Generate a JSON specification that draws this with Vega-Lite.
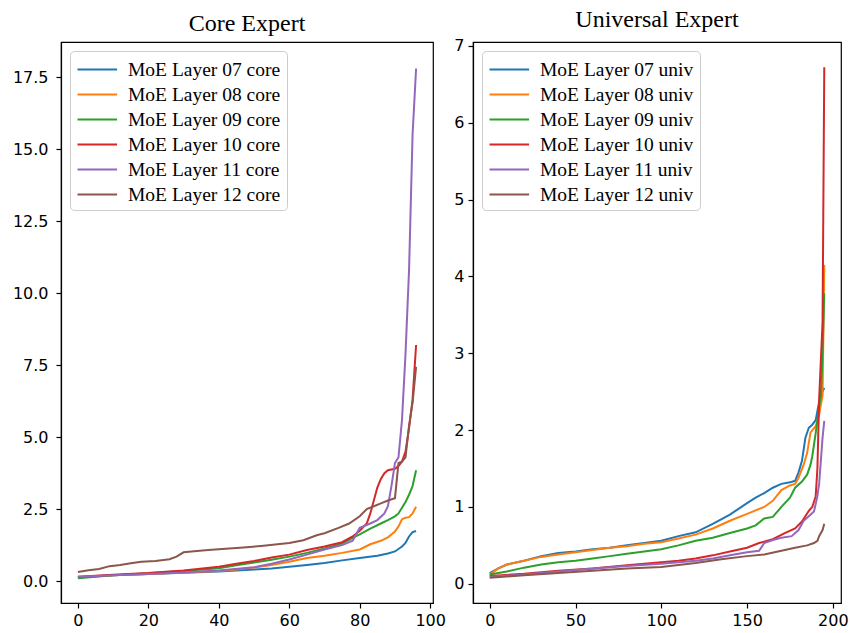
{
  "$schema": "https://vega.github.io/schema/vega-lite/v6.json",
  "padding": {"left": 11, "top": 7, "right": 0, "bottom": 0},
  "background": "white",
  "spacing": 6,
  "datasets": {
    "core": [
      {"s": "MoE Layer 07 core", "x": 0, "y": 0.13}, {"s": "MoE Layer 07 core", "x": 10, "y": 0.2}, {"s": "MoE Layer 07 core", "x": 20, "y": 0.25}, {"s": "MoE Layer 07 core", "x": 30, "y": 0.29}, {"s": "MoE Layer 07 core", "x": 40, "y": 0.33}, {"s": "MoE Layer 07 core", "x": 50, "y": 0.4}, {"s": "MoE Layer 07 core", "x": 55, "y": 0.44}, {"s": "MoE Layer 07 core", "x": 60, "y": 0.5}, {"s": "MoE Layer 07 core", "x": 65, "y": 0.56}, {"s": "MoE Layer 07 core", "x": 70, "y": 0.63}, {"s": "MoE Layer 07 core", "x": 75, "y": 0.72}, {"s": "MoE Layer 07 core", "x": 80, "y": 0.8}, {"s": "MoE Layer 07 core", "x": 85, "y": 0.88}, {"s": "MoE Layer 07 core", "x": 88, "y": 0.96}, {"s": "MoE Layer 07 core", "x": 90, "y": 1.03}, {"s": "MoE Layer 07 core", "x": 92, "y": 1.2}, {"s": "MoE Layer 07 core", "x": 93, "y": 1.33}, {"s": "MoE Layer 07 core", "x": 94, "y": 1.55}, {"s": "MoE Layer 07 core", "x": 95, "y": 1.7}, {"s": "MoE Layer 07 core", "x": 96, "y": 1.74},
      {"s": "MoE Layer 08 core", "x": 0, "y": 0.13}, {"s": "MoE Layer 08 core", "x": 10, "y": 0.2}, {"s": "MoE Layer 08 core", "x": 20, "y": 0.25}, {"s": "MoE Layer 08 core", "x": 30, "y": 0.3}, {"s": "MoE Layer 08 core", "x": 40, "y": 0.35}, {"s": "MoE Layer 08 core", "x": 45, "y": 0.4}, {"s": "MoE Layer 08 core", "x": 50, "y": 0.47}, {"s": "MoE Layer 08 core", "x": 55, "y": 0.56}, {"s": "MoE Layer 08 core", "x": 60, "y": 0.67}, {"s": "MoE Layer 08 core", "x": 65, "y": 0.8}, {"s": "MoE Layer 08 core", "x": 70, "y": 0.88}, {"s": "MoE Layer 08 core", "x": 75, "y": 0.98}, {"s": "MoE Layer 08 core", "x": 80, "y": 1.1}, {"s": "MoE Layer 08 core", "x": 83, "y": 1.28}, {"s": "MoE Layer 08 core", "x": 86, "y": 1.4}, {"s": "MoE Layer 08 core", "x": 88, "y": 1.52}, {"s": "MoE Layer 08 core", "x": 90, "y": 1.72}, {"s": "MoE Layer 08 core", "x": 91, "y": 1.9}, {"s": "MoE Layer 08 core", "x": 92, "y": 2.15}, {"s": "MoE Layer 08 core", "x": 93, "y": 2.2}, {"s": "MoE Layer 08 core", "x": 94, "y": 2.22}, {"s": "MoE Layer 08 core", "x": 95, "y": 2.35}, {"s": "MoE Layer 08 core", "x": 96, "y": 2.58},
      {"s": "MoE Layer 09 core", "x": 0, "y": 0.1}, {"s": "MoE Layer 09 core", "x": 10, "y": 0.2}, {"s": "MoE Layer 09 core", "x": 20, "y": 0.27}, {"s": "MoE Layer 09 core", "x": 30, "y": 0.35}, {"s": "MoE Layer 09 core", "x": 40, "y": 0.45}, {"s": "MoE Layer 09 core", "x": 45, "y": 0.55}, {"s": "MoE Layer 09 core", "x": 50, "y": 0.65}, {"s": "MoE Layer 09 core", "x": 55, "y": 0.74}, {"s": "MoE Layer 09 core", "x": 60, "y": 0.85}, {"s": "MoE Layer 09 core", "x": 65, "y": 0.98}, {"s": "MoE Layer 09 core", "x": 70, "y": 1.13}, {"s": "MoE Layer 09 core", "x": 75, "y": 1.3}, {"s": "MoE Layer 09 core", "x": 78, "y": 1.5}, {"s": "MoE Layer 09 core", "x": 80, "y": 1.62}, {"s": "MoE Layer 09 core", "x": 83, "y": 1.82}, {"s": "MoE Layer 09 core", "x": 86, "y": 2.0}, {"s": "MoE Layer 09 core", "x": 88, "y": 2.12}, {"s": "MoE Layer 09 core", "x": 90, "y": 2.25}, {"s": "MoE Layer 09 core", "x": 91, "y": 2.35}, {"s": "MoE Layer 09 core", "x": 92, "y": 2.55}, {"s": "MoE Layer 09 core", "x": 93, "y": 2.75}, {"s": "MoE Layer 09 core", "x": 94, "y": 3.0}, {"s": "MoE Layer 09 core", "x": 95, "y": 3.3}, {"s": "MoE Layer 09 core", "x": 96, "y": 3.85},
      {"s": "MoE Layer 10 core", "x": 0, "y": 0.15}, {"s": "MoE Layer 10 core", "x": 10, "y": 0.22}, {"s": "MoE Layer 10 core", "x": 20, "y": 0.28}, {"s": "MoE Layer 10 core", "x": 30, "y": 0.37}, {"s": "MoE Layer 10 core", "x": 40, "y": 0.5}, {"s": "MoE Layer 10 core", "x": 45, "y": 0.6}, {"s": "MoE Layer 10 core", "x": 50, "y": 0.7}, {"s": "MoE Layer 10 core", "x": 55, "y": 0.82}, {"s": "MoE Layer 10 core", "x": 60, "y": 0.92}, {"s": "MoE Layer 10 core", "x": 65, "y": 1.08}, {"s": "MoE Layer 10 core", "x": 70, "y": 1.2}, {"s": "MoE Layer 10 core", "x": 75, "y": 1.35}, {"s": "MoE Layer 10 core", "x": 78, "y": 1.55}, {"s": "MoE Layer 10 core", "x": 80, "y": 1.75}, {"s": "MoE Layer 10 core", "x": 82, "y": 2.0}, {"s": "MoE Layer 10 core", "x": 83, "y": 2.35}, {"s": "MoE Layer 10 core", "x": 84, "y": 2.8}, {"s": "MoE Layer 10 core", "x": 85, "y": 3.25}, {"s": "MoE Layer 10 core", "x": 86, "y": 3.55}, {"s": "MoE Layer 10 core", "x": 87, "y": 3.75}, {"s": "MoE Layer 10 core", "x": 88, "y": 3.85}, {"s": "MoE Layer 10 core", "x": 90, "y": 3.9}, {"s": "MoE Layer 10 core", "x": 91, "y": 4.0}, {"s": "MoE Layer 10 core", "x": 92, "y": 4.15}, {"s": "MoE Layer 10 core", "x": 93, "y": 4.5}, {"s": "MoE Layer 10 core", "x": 94, "y": 5.3}, {"s": "MoE Layer 10 core", "x": 95, "y": 6.3}, {"s": "MoE Layer 10 core", "x": 96, "y": 8.2},
      {"s": "MoE Layer 11 core", "x": 0, "y": 0.15}, {"s": "MoE Layer 11 core", "x": 10, "y": 0.2}, {"s": "MoE Layer 11 core", "x": 20, "y": 0.25}, {"s": "MoE Layer 11 core", "x": 30, "y": 0.3}, {"s": "MoE Layer 11 core", "x": 40, "y": 0.37}, {"s": "MoE Layer 11 core", "x": 50, "y": 0.48}, {"s": "MoE Layer 11 core", "x": 55, "y": 0.6}, {"s": "MoE Layer 11 core", "x": 60, "y": 0.75}, {"s": "MoE Layer 11 core", "x": 65, "y": 0.92}, {"s": "MoE Layer 11 core", "x": 70, "y": 1.1}, {"s": "MoE Layer 11 core", "x": 75, "y": 1.25}, {"s": "MoE Layer 11 core", "x": 78, "y": 1.4}, {"s": "MoE Layer 11 core", "x": 80, "y": 1.85}, {"s": "MoE Layer 11 core", "x": 83, "y": 2.0}, {"s": "MoE Layer 11 core", "x": 85, "y": 2.12}, {"s": "MoE Layer 11 core", "x": 87, "y": 2.35}, {"s": "MoE Layer 11 core", "x": 88, "y": 2.6}, {"s": "MoE Layer 11 core", "x": 89, "y": 3.3}, {"s": "MoE Layer 11 core", "x": 90, "y": 4.1}, {"s": "MoE Layer 11 core", "x": 91, "y": 4.3}, {"s": "MoE Layer 11 core", "x": 92, "y": 5.6}, {"s": "MoE Layer 11 core", "x": 93, "y": 7.9}, {"s": "MoE Layer 11 core", "x": 94, "y": 10.8}, {"s": "MoE Layer 11 core", "x": 95, "y": 15.5}, {"s": "MoE Layer 11 core", "x": 96, "y": 17.8},
      {"s": "MoE Layer 12 core", "x": 0, "y": 0.32}, {"s": "MoE Layer 12 core", "x": 3, "y": 0.38}, {"s": "MoE Layer 12 core", "x": 6, "y": 0.42}, {"s": "MoE Layer 12 core", "x": 9, "y": 0.52}, {"s": "MoE Layer 12 core", "x": 12, "y": 0.56}, {"s": "MoE Layer 12 core", "x": 15, "y": 0.62}, {"s": "MoE Layer 12 core", "x": 18, "y": 0.67}, {"s": "MoE Layer 12 core", "x": 22, "y": 0.7}, {"s": "MoE Layer 12 core", "x": 26, "y": 0.76}, {"s": "MoE Layer 12 core", "x": 28, "y": 0.85}, {"s": "MoE Layer 12 core", "x": 30, "y": 1.0}, {"s": "MoE Layer 12 core", "x": 33, "y": 1.04}, {"s": "MoE Layer 12 core", "x": 37, "y": 1.08}, {"s": "MoE Layer 12 core", "x": 42, "y": 1.12}, {"s": "MoE Layer 12 core", "x": 47, "y": 1.17}, {"s": "MoE Layer 12 core", "x": 52, "y": 1.22}, {"s": "MoE Layer 12 core", "x": 56, "y": 1.27}, {"s": "MoE Layer 12 core", "x": 60, "y": 1.32}, {"s": "MoE Layer 12 core", "x": 64, "y": 1.42}, {"s": "MoE Layer 12 core", "x": 68, "y": 1.6}, {"s": "MoE Layer 12 core", "x": 70, "y": 1.66}, {"s": "MoE Layer 12 core", "x": 74, "y": 1.85}, {"s": "MoE Layer 12 core", "x": 77, "y": 2.0}, {"s": "MoE Layer 12 core", "x": 80, "y": 2.25}, {"s": "MoE Layer 12 core", "x": 82, "y": 2.5}, {"s": "MoE Layer 12 core", "x": 84, "y": 2.6}, {"s": "MoE Layer 12 core", "x": 86, "y": 2.7}, {"s": "MoE Layer 12 core", "x": 88, "y": 2.8}, {"s": "MoE Layer 12 core", "x": 90, "y": 2.88}, {"s": "MoE Layer 12 core", "x": 91, "y": 4.1}, {"s": "MoE Layer 12 core", "x": 92, "y": 4.15}, {"s": "MoE Layer 12 core", "x": 93, "y": 4.3}, {"s": "MoE Layer 12 core", "x": 94, "y": 5.4}, {"s": "MoE Layer 12 core", "x": 95, "y": 6.2}, {"s": "MoE Layer 12 core", "x": 96, "y": 7.44}
    ],
    "univ": [
      {"s": "MoE Layer 07 univ", "x": 0, "y": 0.14}, {"s": "MoE Layer 07 univ", "x": 5, "y": 0.2}, {"s": "MoE Layer 07 univ", "x": 10, "y": 0.25}, {"s": "MoE Layer 07 univ", "x": 20, "y": 0.3}, {"s": "MoE Layer 07 univ", "x": 30, "y": 0.36}, {"s": "MoE Layer 07 univ", "x": 40, "y": 0.4}, {"s": "MoE Layer 07 univ", "x": 50, "y": 0.42}, {"s": "MoE Layer 07 univ", "x": 60, "y": 0.45}, {"s": "MoE Layer 07 univ", "x": 70, "y": 0.47}, {"s": "MoE Layer 07 univ", "x": 80, "y": 0.5}, {"s": "MoE Layer 07 univ", "x": 90, "y": 0.53}, {"s": "MoE Layer 07 univ", "x": 100, "y": 0.56}, {"s": "MoE Layer 07 univ", "x": 110, "y": 0.62}, {"s": "MoE Layer 07 univ", "x": 120, "y": 0.67}, {"s": "MoE Layer 07 univ", "x": 130, "y": 0.78}, {"s": "MoE Layer 07 univ", "x": 140, "y": 0.9}, {"s": "MoE Layer 07 univ", "x": 150, "y": 1.05}, {"s": "MoE Layer 07 univ", "x": 155, "y": 1.12}, {"s": "MoE Layer 07 univ", "x": 160, "y": 1.18}, {"s": "MoE Layer 07 univ", "x": 165, "y": 1.25}, {"s": "MoE Layer 07 univ", "x": 170, "y": 1.3}, {"s": "MoE Layer 07 univ", "x": 175, "y": 1.32}, {"s": "MoE Layer 07 univ", "x": 178, "y": 1.34}, {"s": "MoE Layer 07 univ", "x": 180, "y": 1.45}, {"s": "MoE Layer 07 univ", "x": 182, "y": 1.6}, {"s": "MoE Layer 07 univ", "x": 184, "y": 1.9}, {"s": "MoE Layer 07 univ", "x": 186, "y": 2.03}, {"s": "MoE Layer 07 univ", "x": 188, "y": 2.07}, {"s": "MoE Layer 07 univ", "x": 190, "y": 2.13}, {"s": "MoE Layer 07 univ", "x": 192, "y": 2.37}, {"s": "MoE Layer 07 univ", "x": 194, "y": 2.5}, {"s": "MoE Layer 07 univ", "x": 195, "y": 2.55},
      {"s": "MoE Layer 08 univ", "x": 0, "y": 0.12}, {"s": "MoE Layer 08 univ", "x": 5, "y": 0.2}, {"s": "MoE Layer 08 univ", "x": 10, "y": 0.25}, {"s": "MoE Layer 08 univ", "x": 20, "y": 0.3}, {"s": "MoE Layer 08 univ", "x": 30, "y": 0.35}, {"s": "MoE Layer 08 univ", "x": 40, "y": 0.38}, {"s": "MoE Layer 08 univ", "x": 50, "y": 0.41}, {"s": "MoE Layer 08 univ", "x": 60, "y": 0.44}, {"s": "MoE Layer 08 univ", "x": 70, "y": 0.47}, {"s": "MoE Layer 08 univ", "x": 80, "y": 0.49}, {"s": "MoE Layer 08 univ", "x": 90, "y": 0.52}, {"s": "MoE Layer 08 univ", "x": 100, "y": 0.54}, {"s": "MoE Layer 08 univ", "x": 110, "y": 0.59}, {"s": "MoE Layer 08 univ", "x": 120, "y": 0.64}, {"s": "MoE Layer 08 univ", "x": 130, "y": 0.72}, {"s": "MoE Layer 08 univ", "x": 140, "y": 0.82}, {"s": "MoE Layer 08 univ", "x": 150, "y": 0.91}, {"s": "MoE Layer 08 univ", "x": 160, "y": 1.0}, {"s": "MoE Layer 08 univ", "x": 165, "y": 1.08}, {"s": "MoE Layer 08 univ", "x": 170, "y": 1.22}, {"s": "MoE Layer 08 univ", "x": 175, "y": 1.28}, {"s": "MoE Layer 08 univ", "x": 178, "y": 1.3}, {"s": "MoE Layer 08 univ", "x": 180, "y": 1.38}, {"s": "MoE Layer 08 univ", "x": 183, "y": 1.55}, {"s": "MoE Layer 08 univ", "x": 185, "y": 1.7}, {"s": "MoE Layer 08 univ", "x": 187, "y": 1.97}, {"s": "MoE Layer 08 univ", "x": 190, "y": 2.05}, {"s": "MoE Layer 08 univ", "x": 192, "y": 2.2}, {"s": "MoE Layer 08 univ", "x": 194, "y": 2.45}, {"s": "MoE Layer 08 univ", "x": 195, "y": 4.15},
      {"s": "MoE Layer 09 univ", "x": 0, "y": 0.12}, {"s": "MoE Layer 09 univ", "x": 10, "y": 0.16}, {"s": "MoE Layer 09 univ", "x": 20, "y": 0.21}, {"s": "MoE Layer 09 univ", "x": 30, "y": 0.25}, {"s": "MoE Layer 09 univ", "x": 40, "y": 0.28}, {"s": "MoE Layer 09 univ", "x": 50, "y": 0.3}, {"s": "MoE Layer 09 univ", "x": 60, "y": 0.33}, {"s": "MoE Layer 09 univ", "x": 70, "y": 0.36}, {"s": "MoE Layer 09 univ", "x": 80, "y": 0.39}, {"s": "MoE Layer 09 univ", "x": 90, "y": 0.42}, {"s": "MoE Layer 09 univ", "x": 100, "y": 0.45}, {"s": "MoE Layer 09 univ", "x": 110, "y": 0.5}, {"s": "MoE Layer 09 univ", "x": 120, "y": 0.56}, {"s": "MoE Layer 09 univ", "x": 130, "y": 0.6}, {"s": "MoE Layer 09 univ", "x": 140, "y": 0.66}, {"s": "MoE Layer 09 univ", "x": 150, "y": 0.72}, {"s": "MoE Layer 09 univ", "x": 155, "y": 0.76}, {"s": "MoE Layer 09 univ", "x": 160, "y": 0.85}, {"s": "MoE Layer 09 univ", "x": 165, "y": 0.87}, {"s": "MoE Layer 09 univ", "x": 170, "y": 1.0}, {"s": "MoE Layer 09 univ", "x": 175, "y": 1.12}, {"s": "MoE Layer 09 univ", "x": 178, "y": 1.25}, {"s": "MoE Layer 09 univ", "x": 182, "y": 1.33}, {"s": "MoE Layer 09 univ", "x": 185, "y": 1.42}, {"s": "MoE Layer 09 univ", "x": 187, "y": 1.55}, {"s": "MoE Layer 09 univ", "x": 188, "y": 1.66}, {"s": "MoE Layer 09 univ", "x": 190, "y": 1.96}, {"s": "MoE Layer 09 univ", "x": 192, "y": 2.3}, {"s": "MoE Layer 09 univ", "x": 193, "y": 2.45}, {"s": "MoE Layer 09 univ", "x": 194, "y": 3.0}, {"s": "MoE Layer 09 univ", "x": 195, "y": 3.78},
      {"s": "MoE Layer 10 univ", "x": 0, "y": 0.1}, {"s": "MoE Layer 10 univ", "x": 20, "y": 0.13}, {"s": "MoE Layer 10 univ", "x": 40, "y": 0.17}, {"s": "MoE Layer 10 univ", "x": 60, "y": 0.2}, {"s": "MoE Layer 10 univ", "x": 80, "y": 0.24}, {"s": "MoE Layer 10 univ", "x": 100, "y": 0.28}, {"s": "MoE Layer 10 univ", "x": 110, "y": 0.3}, {"s": "MoE Layer 10 univ", "x": 120, "y": 0.33}, {"s": "MoE Layer 10 univ", "x": 130, "y": 0.37}, {"s": "MoE Layer 10 univ", "x": 140, "y": 0.42}, {"s": "MoE Layer 10 univ", "x": 150, "y": 0.47}, {"s": "MoE Layer 10 univ", "x": 157, "y": 0.53}, {"s": "MoE Layer 10 univ", "x": 165, "y": 0.58}, {"s": "MoE Layer 10 univ", "x": 172, "y": 0.66}, {"s": "MoE Layer 10 univ", "x": 178, "y": 0.72}, {"s": "MoE Layer 10 univ", "x": 182, "y": 0.81}, {"s": "MoE Layer 10 univ", "x": 186, "y": 0.95}, {"s": "MoE Layer 10 univ", "x": 188, "y": 1.0}, {"s": "MoE Layer 10 univ", "x": 190, "y": 1.14}, {"s": "MoE Layer 10 univ", "x": 191, "y": 1.5}, {"s": "MoE Layer 10 univ", "x": 192, "y": 2.4}, {"s": "MoE Layer 10 univ", "x": 193, "y": 2.9}, {"s": "MoE Layer 10 univ", "x": 194, "y": 3.4}, {"s": "MoE Layer 10 univ", "x": 195, "y": 6.72},
      {"s": "MoE Layer 11 univ", "x": 0, "y": 0.09}, {"s": "MoE Layer 11 univ", "x": 20, "y": 0.12}, {"s": "MoE Layer 11 univ", "x": 40, "y": 0.16}, {"s": "MoE Layer 11 univ", "x": 60, "y": 0.2}, {"s": "MoE Layer 11 univ", "x": 80, "y": 0.23}, {"s": "MoE Layer 11 univ", "x": 100, "y": 0.26}, {"s": "MoE Layer 11 univ", "x": 110, "y": 0.28}, {"s": "MoE Layer 11 univ", "x": 120, "y": 0.3}, {"s": "MoE Layer 11 univ", "x": 130, "y": 0.33}, {"s": "MoE Layer 11 univ", "x": 140, "y": 0.37}, {"s": "MoE Layer 11 univ", "x": 150, "y": 0.41}, {"s": "MoE Layer 11 univ", "x": 157, "y": 0.43}, {"s": "MoE Layer 11 univ", "x": 160, "y": 0.53}, {"s": "MoE Layer 11 univ", "x": 165, "y": 0.57}, {"s": "MoE Layer 11 univ", "x": 170, "y": 0.6}, {"s": "MoE Layer 11 univ", "x": 176, "y": 0.62}, {"s": "MoE Layer 11 univ", "x": 180, "y": 0.7}, {"s": "MoE Layer 11 univ", "x": 183, "y": 0.82}, {"s": "MoE Layer 11 univ", "x": 186, "y": 0.88}, {"s": "MoE Layer 11 univ", "x": 189, "y": 0.94}, {"s": "MoE Layer 11 univ", "x": 191, "y": 1.14}, {"s": "MoE Layer 11 univ", "x": 192, "y": 1.3}, {"s": "MoE Layer 11 univ", "x": 193, "y": 1.6}, {"s": "MoE Layer 11 univ", "x": 194, "y": 1.9}, {"s": "MoE Layer 11 univ", "x": 195, "y": 2.12},
      {"s": "MoE Layer 12 univ", "x": 0, "y": 0.08}, {"s": "MoE Layer 12 univ", "x": 20, "y": 0.11}, {"s": "MoE Layer 12 univ", "x": 40, "y": 0.14}, {"s": "MoE Layer 12 univ", "x": 60, "y": 0.17}, {"s": "MoE Layer 12 univ", "x": 80, "y": 0.2}, {"s": "MoE Layer 12 univ", "x": 100, "y": 0.22}, {"s": "MoE Layer 12 univ", "x": 120, "y": 0.27}, {"s": "MoE Layer 12 univ", "x": 135, "y": 0.32}, {"s": "MoE Layer 12 univ", "x": 150, "y": 0.36}, {"s": "MoE Layer 12 univ", "x": 160, "y": 0.38}, {"s": "MoE Layer 12 univ", "x": 170, "y": 0.43}, {"s": "MoE Layer 12 univ", "x": 178, "y": 0.47}, {"s": "MoE Layer 12 univ", "x": 185, "y": 0.5}, {"s": "MoE Layer 12 univ", "x": 189, "y": 0.53}, {"s": "MoE Layer 12 univ", "x": 191, "y": 0.56}, {"s": "MoE Layer 12 univ", "x": 192, "y": 0.62}, {"s": "MoE Layer 12 univ", "x": 194, "y": 0.7}, {"s": "MoE Layer 12 univ", "x": 195, "y": 0.78}
    ]
  },
  "hconcat": [
    {
      "width": 372,
      "height": 561,
      "title": {"text": "Core Expert"},
      "data": {"name": "core"},
      "mark": {"type": "line", "strokeWidth": 2, "clip": true},
      "encoding": {
        "x": {"field": "x", "type": "quantitative", "title": null,
              "scale": {"domain": [-4.8, 100.8], "nice": false, "zero": false},
              "axis": {"values": [0, 20, 40, 60, 80, 100]}},
        "y": {"field": "y", "type": "quantitative", "title": null,
              "scale": {"domain": [-0.76, 18.72], "nice": false, "zero": false},
              "axis": {"values": [0, 2.5, 5, 7.5, 10, 12.5, 15, 17.5], "format": ".1f", "labelPadding": 8}},
        "color": {"field": "s", "type": "nominal", "title": null,
                  "scale": {"domain": ["MoE Layer 07 core", "MoE Layer 08 core", "MoE Layer 09 core", "MoE Layer 10 core", "MoE Layer 11 core", "MoE Layer 12 core"],
                            "range": ["#1f77b4", "#ff7f0e", "#2ca02c", "#d62728", "#9467bd", "#8c564b"]},
                  "legend": {"orient": "top-left"}}
      }
    },
    {
      "width": 368,
      "height": 561,
      "title": {"text": "Universal Expert"},
      "data": {"name": "univ"},
      "mark": {"type": "line", "strokeWidth": 2, "clip": true},
      "encoding": {
        "x": {"field": "x", "type": "quantitative", "title": null,
              "scale": {"domain": [-9.75, 204.75], "nice": false, "zero": false},
              "axis": {"values": [0, 50, 100, 150, 200]}},
        "y": {"field": "y", "type": "quantitative", "title": null,
              "scale": {"domain": [-0.25, 7.05], "nice": false, "zero": false},
              "axis": {"values": [0, 1, 2, 3, 4, 5, 6, 7], "format": "d"}},
        "color": {"field": "s", "type": "nominal", "title": null,
                  "scale": {"domain": ["MoE Layer 07 univ", "MoE Layer 08 univ", "MoE Layer 09 univ", "MoE Layer 10 univ", "MoE Layer 11 univ", "MoE Layer 12 univ"],
                            "range": ["#1f77b4", "#ff7f0e", "#2ca02c", "#d62728", "#9467bd", "#8c564b"]},
                  "legend": {"orient": "top-left"}}
      }
    }
  ],
  "resolve": {"scale": {"color": "independent", "x": "independent", "y": "independent"}, "legend": {"color": "independent"}},
  "config": {
    "view": {"stroke": "#000000", "strokeWidth": 1.2},
    "title": {"font": "Liberation Serif", "fontSize": 24, "fontWeight": "normal", "color": "#000000", "offset": 6, "anchor": "middle"},
    "axis": {
      "grid": false, "domainColor": "#000000", "domainWidth": 1.2, "tickColor": "#000000", "tickSize": 5, "tickWidth": 1.2,
      "labelFont": "DejaVu Sans", "labelFontSize": 16, "labelColor": "#000000", "labelPadding": 4, "labelOverlap": false, "labelFlush": false, "labelBound": false
    },
    "legend": {
      "labelFont": "Liberation Serif", "labelFontSize": 19.5, "labelColor": "#000000", "labelLimit": 400,
      "symbolType": "M-1,0H2.6", "symbolSize": 484, "symbolStrokeWidth": 2.2, "symbolFillColor": "transparent",
      "rowPadding": 3, "padding": 6, "offset": 9,
      "strokeColor": "#cccccc", "fillColor": "#ffffff", "cornerRadius": 4, "labelOffset": 27
    }
  }
}
